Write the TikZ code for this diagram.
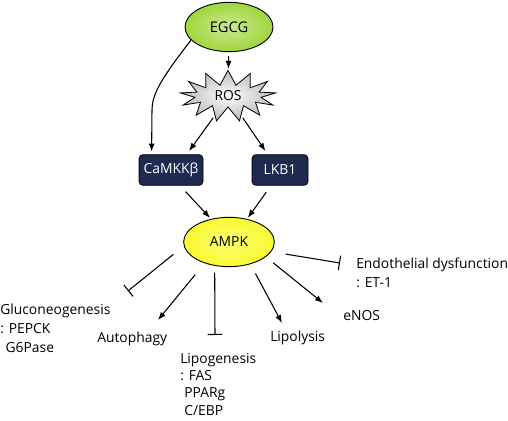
\documentclass[tikz,border=0pt]{standalone}
\usepackage{fontspec}
\setmainfont{Open Sans}
\usetikzlibrary{positioning,shapes.geometric,shapes.symbols,arrows.meta}

\definecolor{egcggreen}{RGB}{160,214,60}
\definecolor{ampkyellow}{RGB}{250,250,50}
\definecolor{kinasenavy}{RGB}{30,42,80}

\tikzset{
	act/.style={-{Latex[length=6pt,width=4.5pt]}, line width=0.8pt},
	inh/.style={-{Bar[width=11pt,line width=0.8pt]}, line width=0.8pt},
	kinase/.style={rectangle, rounded corners=3pt, draw=black, line width=0.6pt,
		fill=kinasenavy, text=white, minimum height=23pt, inner sep=2pt},
	effect/.style={align=left, inner sep=0pt, font={\fontsize{10.4}{14}\selectfont}},
}

\begin{document}
\begin{tikzpicture}[x=0.75pt, y=-0.75pt, font={\fontsize{10.4}{12}\selectfont}]
			\useasboundingbox (0,0) rectangle (508,421);

			% upstream
			\node[ellipse, draw=black, line width=0.7pt, inner color=egcggreen!55, outer color=egcggreen,
				minimum width=66pt, minimum height=37pt, font={\fontsize{11}{13}\selectfont}] (egcg) at (229,27) {EGCG};
			\node[starburst, starburst points=13, starburst point height=11pt, random starburst=0,
				draw=black, line width=0.6pt, inner color=white, outer color=gray!55,
				minimum width=72pt, minimum height=36pt, inner sep=2pt] (ros) at (228,96) {ROS};

			% kinases
			\node[kinase, minimum width=48pt] (camkk) at (171,170) {CaMKKβ};
			\node[kinase, minimum width=42pt] (lkb) at (280,170) {LKB1};

			\node[ellipse, draw=black, line width=0.7pt, inner color=ampkyellow!70, outer color=ampkyellow,
				minimum width=68pt, minimum height=37pt] (ampk) at (229,242) {AMPK};

			% arrows into AMPK
			\draw[act, shorten <=3pt, shorten >=1pt] (egcg) -- (ros);
			\draw[act, shorten >=2pt] (egcg.199) .. controls (160,80) and (152,95) .. (152,110) -- (camkk.141);
			\draw[act, shorten <=2pt, shorten >=3pt] (ros.236) -- (camkk.45);
			\draw[act, shorten <=2pt, shorten >=3pt] (ros.304) -- (lkb.128);
			\draw[act, shorten <=6pt, shorten >=1pt] (camkk.300) -- (ampk.128);
			\draw[act, shorten <=6pt, shorten >=1pt] (lkb.240) -- (ampk.52);

			% end points of the outputs
			\coordinate (glucoT) at (128,291);
			\coordinate (autophT) at (158,320);
			\coordinate (lipogenT) at (215,335);
			\coordinate (lipolyT) at (282,323);
			\coordinate (enosT) at (323,303);
			\coordinate (endoT) at (340,263);

			% outputs of AMPK
			\draw[inh, shorten <=10pt] (ampk.185) -- (glucoT);
			\draw[act, shorten <=11pt] (ampk.221) -- (autophT);
			\draw[inh, shorten <=5pt] (ampk.239) -- (lipogenT);
			\draw[act, shorten <=8pt] (ampk.314) -- (lipolyT);
			\draw[act, shorten <=7pt] (ampk.338) -- (enosT);
			\draw[inh, shorten <=11pt] (ampk.347) -- (endoT);

			% labels (base = last line)
			\node[effect, anchor=base west] (gluco) at (0,352) {Gluconeogenesis\\: PEPCK\\\hspace{4pt}G6Pase};
			\node[effect, anchor=base west] (autoph) at (97,342) {Autophagy};
			\node[effect, anchor=base west, font={\fontsize{10.4}{13}\selectfont}] (lipogen) at (180,415)
				{Lipogenesis\\: FAS\\\hspace{3pt}PPARg\\\hspace{3pt}C/EBP};
			\node[effect, anchor=base west] (lipoly) at (270,341) {Lipolysis};
			\node[effect, anchor=base west] (enos) at (343,320) {eNOS};
			\node[effect, anchor=base west] (endo) at (356,287) {Endothelial dysfunction\\: ET-1};

		\end{tikzpicture}
\end{document}
